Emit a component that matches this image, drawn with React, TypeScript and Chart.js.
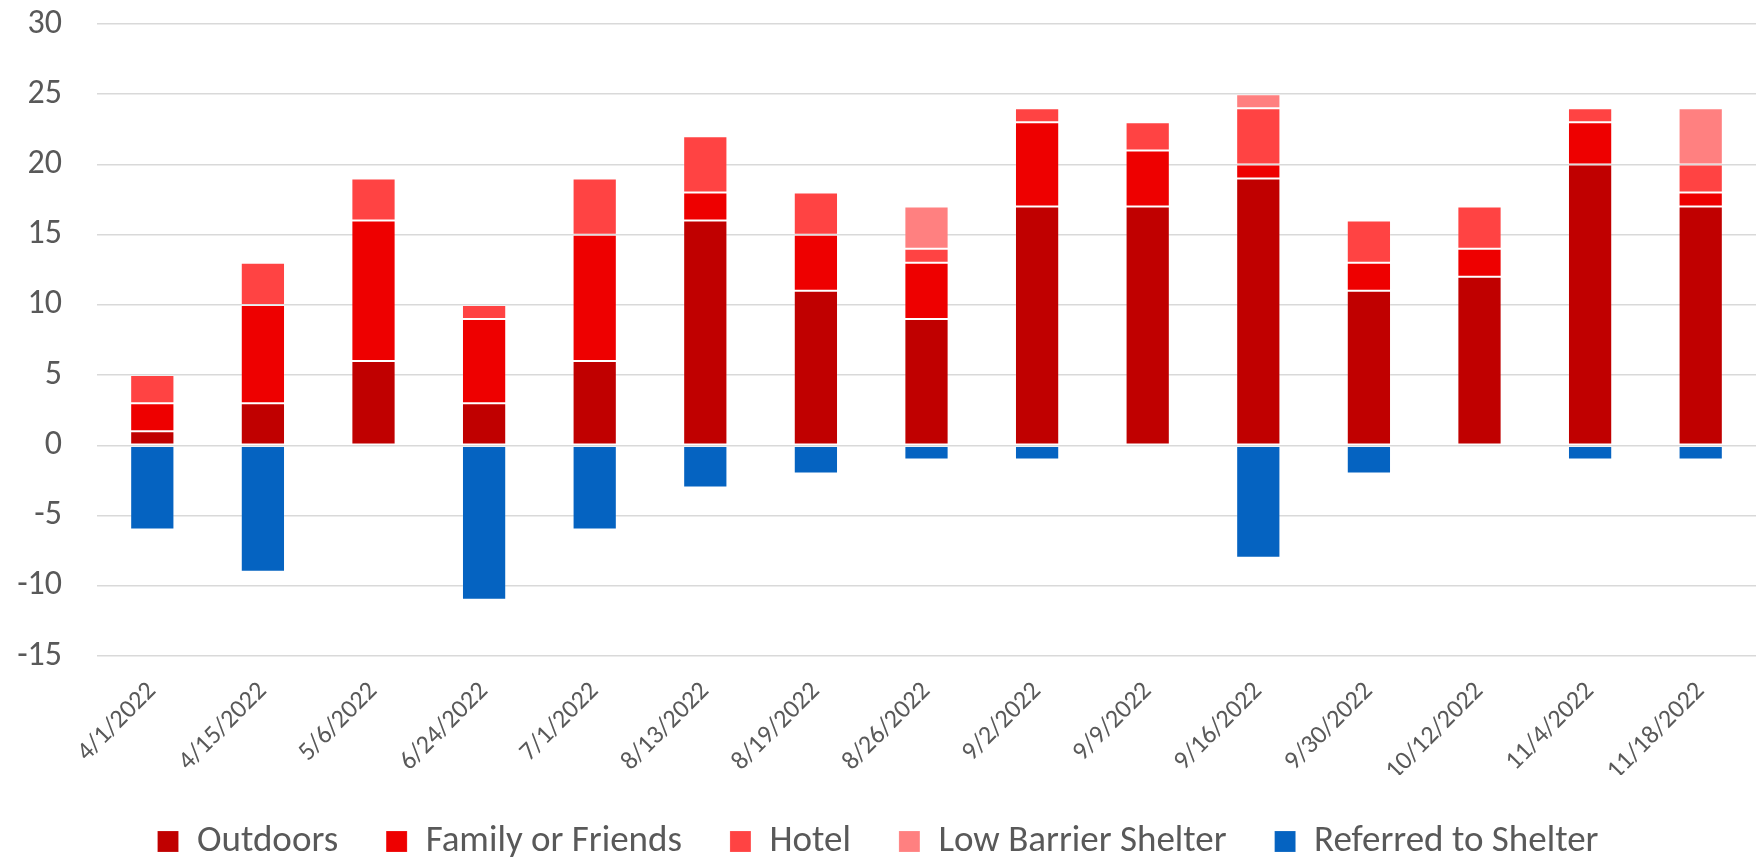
import React, { useEffect, useRef } from "react";
import { Chart, registerables } from "chart.js";

Chart.register(...registerables);

const categories = [
  "4/1/2022", "4/15/2022", "5/6/2022", "6/24/2022", "7/1/2022",
  "8/13/2022", "8/19/2022", "8/26/2022", "9/2/2022", "9/9/2022",
  "9/16/2022", "9/30/2022", "10/12/2022", "11/4/2022", "11/18/2022",
];

const outdoors = [1, 3, 6, 3, 6, 16, 11, 9, 17, 17, 19, 11, 12, 20, 17];
const familyOrFriends = [2, 7, 10, 6, 9, 2, 4, 4, 6, 4, 1, 2, 2, 3, 1];
const hotel = [2, 3, 3, 1, 4, 4, 3, 1, 1, 2, 4, 3, 3, 1, 2];
const lowBarrierShelter = [0, 0, 0, 0, 0, 0, 0, 3, 0, 0, 1, 0, 0, 0, 4];
const referredToShelter = [-6, -9, 0, -11, -6, -3, -2, -1, -1, 0, -8, -2, 0, -1, -1];

const yTicks = [-15, -10, -5, 0, 5, 10, 15, 20, 25, 30];

const FONT = "Carlito, Lato, 'Open Sans', sans-serif";
const TEXT = "#595959";

export default function App() {
  const ref = useRef<HTMLCanvasElement | null>(null);

  useEffect(() => {
    document.body.style.margin = "0";
    const canvas = ref.current;
    if (!canvas) return;
    const border = "rgba(255,255,255,0.16)";
    const mk = (label: string, data: number[], color: string) => ({
      label,
      data,
      backgroundColor: color,
      borderColor: border,
      borderWidth: 1,
      borderSkipped: false as const,
      categoryPercentage: 0.8,
      barPercentage: 0.5,
    });
    const chart = new Chart(canvas, {
      type: "bar",
      data: {
        labels: categories,
        datasets: [
          mk("Outdoors", outdoors, "#C00000"),
          mk("Family or Friends", familyOrFriends, "#EE0000"),
          mk("Hotel", hotel, "#FF4343"),
          mk("Low Barrier Shelter", lowBarrierShelter, "#FF8080"),
          mk("Referred to Shelter", referredToShelter, "#0563C1"),
        ],
      },
      options: {
        responsive: false,
        animation: false,
        layout: { padding: { top: 24, right: 2, left: 0, bottom: -11 } },
        plugins: {
          tooltip: { enabled: false },
          legend: {
            position: "bottom",
            labels: {
              font: { family: FONT, size: 37 },
              color: TEXT,
              boxWidth: 21,
              boxHeight: 21,
              padding: 48,
            },
          },
        },
        scales: {
          x: {
            stacked: true,
            grid: { display: false, drawTicks: false },
            border: { display: false },
            ticks: {
              color: TEXT,
              font: { family: FONT, size: 26 },
              maxRotation: 45,
              minRotation: 45,
              autoSkip: false,
              padding: 20,
            },
            afterFit: (s: any) => {
              s.height = 119;
            },
          },
          y: {
            stacked: true,
            min: -15,
            max: 30,
            afterBuildTicks: (s: any) => {
              s.ticks = yTicks.map((v) => ({ value: v }));
            },
            grid: {
              color: "#D9D9D9",
              lineWidth: 1.5,
              drawTicks: true,
              tickLength: 35,
              tickColor: "rgba(0,0,0,0)",
            },
            border: { display: false },
            ticks: {
              color: TEXT,
              font: { family: FONT, size: 34 },
              padding: 0,
            },
            afterFit: (s: any) => {
              s.width = 97;
            },
          },
        },
      },
    });
    return () => chart.destroy();
  }, []);

  return (
    <div style={{ width: 1758, height: 859 }}>
      <canvas ref={ref} width={1758} height={859} />
    </div>
  );
}
